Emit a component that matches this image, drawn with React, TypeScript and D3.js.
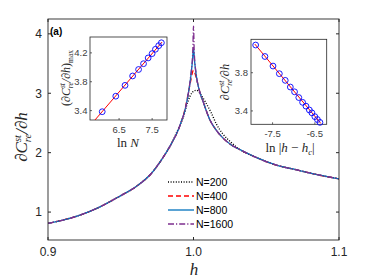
import React from 'react'
import * as d3 from 'd3'

// shared tails of the curves (all N coincide away from h = 1)
const hLeft = [0.9, 0.921, 0.935, 0.948, 0.962, 0.971, 0.978, 0.985]
const vLeft = [0.81, 0.94, 1.08, 1.25, 1.455, 1.65, 1.88, 2.16]
const hRight = [1.032, 1.043, 1.057, 1.071, 1.085, 1.1]
const vRight = [2.05, 1.92, 1.79, 1.71, 1.63, 1.56]

// near the critical point
const hPeak200 = [0.9895, 0.993, 0.996, 0.999, 1.002, 1.005, 1.008, 1.012, 1.016, 1.02, 1.026]
const vPeak200 = [2.4, 2.6, 2.85, 3.01, 3.05, 2.98, 2.86, 2.68, 2.47, 2.32, 2.17]
const hPeak400 = [0.9895, 0.992, 0.994, 0.996, 0.998, 1.0, 1.002, 1.004, 1.0066, 1.0113, 1.015, 1.0205, 1.026]
const vPeak400 = [2.38, 2.55, 2.72, 2.95, 3.2, 3.385, 3.25, 3.05, 2.86, 2.55, 2.4, 2.24, 2.13]
const hPeak800 = [0.9895, 0.992, 0.994, 0.996, 0.998, 0.9993, 1.0, 1.0007, 1.002, 1.004, 1.0066, 1.0113, 1.015, 1.0205, 1.026]
const vPeak800 = [2.38, 2.55, 2.7, 2.93, 3.25, 3.55, 3.76, 3.55, 3.28, 3.05, 2.86, 2.55, 2.4, 2.24, 2.13]
const hPeak1600 = [0.9895, 0.992, 0.994, 0.996, 0.998, 0.9995, 1.0, 1.0005, 1.002, 1.004, 1.0066, 1.0113, 1.015, 1.0205, 1.026]
const vPeak1600 = [2.38, 2.55, 2.7, 2.93, 3.28, 3.7, 4.13, 3.7, 3.3, 3.05, 2.86, 2.55, 2.4, 2.24, 2.13]

const seriesNames = ['N=200', 'N=400', 'N=800', 'N=1600']
const seriesColors = ['#000000', '#ff0000', '#0072bd', '#7e2f8e']
const seriesDash = ['1,1.6', '5,3', 'none', '6,2,1.2,2']

// inset (a): peak height vs ln N
const lnN = [5.99, 6.4, 6.68, 6.91, 7.09, 7.24, 7.38, 7.5, 7.6, 7.7, 7.78]
const peakMax = [3.385, 3.6, 3.75, 3.88, 3.97, 4.05, 4.13, 4.19, 4.25, 4.3, 4.34]
const fit1X = [5.77, 7.8]
const fit1Y = [3.27, 4.35]

// inset (b): derivative vs ln|h-hc|
const lnDist = [-7.9, -7.68, -7.49, -7.34, -7.2, -7.08, -6.98, -6.88, -6.79, -6.71, -6.63, -6.57, -6.5, -6.44, -6.38]
const derivVal = [4.09, 3.97, 3.87, 3.79, 3.72, 3.65, 3.6, 3.54, 3.49, 3.45, 3.41, 3.38, 3.34, 3.31, 3.28]
const fit2X = [-7.92, -6.36]
const fit2Y = [4.1, 3.27]

const xTicks = [0.9, 1.0, 1.1]
const yTicks = [1, 2, 3, 4]
const in1XTicks = [6.5, 7.5]
const in1YTicks = [3.4, 3.8, 4.2]
const in2XTicks = [-7.5, -6.5]
const in2YTicks = [3.4, 3.8]

const axisColor = '#262626'
const sans = 'Liberation Sans, Arial, sans-serif'
const serif = 'Liberation Serif, Times New Roman, serif'

const zip = (a: number[], b: number[]) => a.map((d, i) => [d, b[i]] as [number, number])

const DerivLabel = ({ size }: { size: number }) => {
  const s = size * 0.62
  return (
    <>
      <tspan>∂C</tspan>
      <tspan fontSize={s} dy={-size * 0.38}>st</tspan>
      <tspan fontSize={s} dx={-s * 0.68} dy={size * 0.62}>re</tspan>
      <tspan dy={-size * 0.24}>/∂h</tspan>
    </>
  )
}

const Box = ({ x, y, w, h }: { x: number; y: number; w: number; h: number }) => (
  <rect x={x} y={y} width={w} height={h} fill="white" stroke={axisColor} strokeWidth={0.8} />
)

export default function App() {
  const W = 374
  const H = 280
  const x = d3.scaleLinear().domain([0.9, 1.1]).range([48, 339])
  const y = d3.scaleLinear().domain([0.53, 4.25]).range([240, 19])

  const peaks = [
    zip(hPeak200, vPeak200),
    zip(hPeak400, vPeak400),
    zip(hPeak800, vPeak800),
    zip(hPeak1600, vPeak1600),
  ]
  const curves = peaks.map((p) => [...zip(hLeft, vLeft), ...p, ...zip(hRight, vRight)])
  const line = d3
    .line<[number, number]>()
    .x((d) => x(d[0]))
    .y((d) => y(d[1]))
    .curve(d3.curveMonotoneX)

  // inset 1
  const x1 = d3.scaleLinear().domain([5.62, 7.95]).range([90, 167])
  const y1 = d3.scaleLinear().domain([3.27, 4.42]).range([120, 37])
  // inset 2
  const x2 = d3.scaleLinear().domain([-8.01, -6.22]).range([251, 326.7])
  const y2 = d3.scaleLinear().domain([3.26, 4.15]).range([124.3, 39.3])

  const [l, r] = x.range()
  const [b, t] = y.range()

  return (
    <svg width={W} height={H} style={{ position: 'absolute', left: 0, top: 0, background: 'white' }}>
      <defs>
        <clipPath id="main-clip">
          <rect x={l} y={t} width={r - l} height={b - t} />
        </clipPath>
      </defs>

      {/* curves */}
      <g clipPath="url(#main-clip)" fill="none">
        {curves.map((c, i) => (
          <path
            key={i}
            d={line(c) || ''}
            stroke={seriesColors[i]}
            strokeWidth={i === 0 ? 1.4 : 1.3}
            strokeDasharray={seriesDash[i]}
          />
        ))}
      </g>

      {/* main axes box and ticks */}
      <rect x={l} y={t} width={r - l} height={b - t} fill="none" stroke={axisColor} strokeWidth={0.9} />
      {xTicks.map((v) => (
        <g key={v}>
          <line x1={x(v)} x2={x(v)} y1={b} y2={b - 3} stroke={axisColor} />
          <line x1={x(v)} x2={x(v)} y1={t} y2={t + 3} stroke={axisColor} />
          <text x={x(v)} y={b + 15.5} textAnchor="middle" fontFamily={sans} fontSize={12} fill={axisColor}>
            {d3.format('.1f')(v)}
          </text>
        </g>
      ))}
      {yTicks.map((v) => (
        <g key={v}>
          <line x1={l} x2={l + 3} y1={y(v)} y2={y(v)} stroke={axisColor} />
          <line x1={r} x2={r - 3} y1={y(v)} y2={y(v)} stroke={axisColor} />
          <text x={l - 6} y={y(v) + 4.3} textAnchor="end" fontFamily={sans} fontSize={12} fill={axisColor}>
            {v}
          </text>
        </g>
      ))}
      <text x={194} y={275} textAnchor="middle" fontFamily={serif} fontStyle="italic" fontSize={17} fill={axisColor}>
        h
      </text>
      <text
        transform="translate(27,137) rotate(-90)"
        textAnchor="middle"
        fontFamily={serif}
        fontStyle="italic"
        fontSize={17}
        fill={axisColor}
      >
        <DerivLabel size={17} />
      </text>
      <text x={50} y={35} fontFamily={sans} fontWeight="bold" fontSize={10} fill="#000">
        (a)
      </text>

      {/* legend */}
      {seriesNames.map((n, i) => (
        <g key={n} transform={`translate(0,${182 + i * 14})`}>
          <line x1={168} x2={194} y1={0} y2={0} stroke={seriesColors[i]} strokeWidth={1.3} strokeDasharray={seriesDash[i]} />
          <text x={196} y={3.8} fontFamily={sans} fontSize={10.5} fill="#000">
            {n}
          </text>
        </g>
      ))}

      {/* inset 1 */}
      <Box x={90} y={37} w={77} h={83} />
      <line
        x1={x1(fit1X[0])}
        y1={y1(fit1Y[0])}
        x2={x1(fit1X[1])}
        y2={y1(fit1Y[1])}
        stroke="#ff0000"
        strokeWidth={1}
      />
      {lnN.map((v, i) => (
        <circle key={i} cx={x1(v)} cy={y1(peakMax[i])} r={2.9} fill="none" stroke="#0000ff" strokeWidth={0.9} />
      ))}
      {in1XTicks.map((v) => (
        <g key={v}>
          <line x1={x1(v)} x2={x1(v)} y1={120} y2={118} stroke={axisColor} strokeWidth={0.7} />
          <text x={x1(v)} y={132.5} textAnchor="middle" fontFamily={sans} fontSize={9.5} fill="#404040">
            {v}
          </text>
        </g>
      ))}
      {in1YTicks.map((v) => (
        <g key={v}>
          <line x1={90} x2={92} y1={y1(v)} y2={y1(v)} stroke={axisColor} strokeWidth={0.7} />
          <text x={87.5} y={y1(v) + 3.3} textAnchor="end" fontFamily={sans} fontSize={9.5} fill="#404040">
            {v.toFixed(1)}
          </text>
        </g>
      ))}
      <text x={128} y={147} textAnchor="middle" fontFamily={serif} fontSize={13} fill={axisColor}>
        ln <tspan fontStyle="italic">N</tspan>
      </text>
      <text
        transform="translate(70,78) rotate(-90)"
        textAnchor="middle"
        fontFamily={serif}
        fontSize={12}
        fill={axisColor}
      >
        <tspan>(</tspan>
        <tspan fontStyle="italic">
          <DerivLabel size={12} />
        </tspan>
        <tspan>)</tspan>
        <tspan fontSize={7.5} dy={3}>max</tspan>
      </text>

      {/* inset 2 */}
      <Box x={251} y={39.3} w={75.7} h={85} />
      <line
        x1={x2(fit2X[0])}
        y1={y2(fit2Y[0])}
        x2={x2(fit2X[1])}
        y2={y2(fit2Y[1])}
        stroke="#ff0000"
        strokeWidth={1}
      />
      {lnDist.map((v, i) => (
        <circle key={i} cx={x2(v)} cy={y2(derivVal[i])} r={2.9} fill="none" stroke="#0000ff" strokeWidth={0.9} />
      ))}
      {in2XTicks.map((v) => (
        <g key={v}>
          <line x1={x2(v)} x2={x2(v)} y1={124.3} y2={122.3} stroke={axisColor} strokeWidth={0.7} />
          <text x={x2(v)} y={137} textAnchor="middle" fontFamily={sans} fontSize={9.5} fill="#404040">
            {v}
          </text>
        </g>
      ))}
      {in2YTicks.map((v) => (
        <g key={v}>
          <line x1={251} x2={253} y1={y2(v)} y2={y2(v)} stroke={axisColor} strokeWidth={0.7} />
          <text x={248} y={y2(v) + 3.3} textAnchor="end" fontFamily={sans} fontSize={9.5} fill="#404040">
            {v.toFixed(1)}
          </text>
        </g>
      ))}
      <text x={290} y={152} textAnchor="middle" fontFamily={serif} fontSize={13} fill={axisColor}>
        ln |<tspan fontStyle="italic">h</tspan> − <tspan fontStyle="italic">h</tspan>
        <tspan fontStyle="italic" fontSize={8.5} dy={2.5}>c</tspan>
        <tspan dy={-2.5}>|</tspan>
      </text>
      <text
        transform="translate(229,82) rotate(-90)"
        textAnchor="middle"
        fontFamily={serif}
        fontStyle="italic"
        fontSize={12.5}
        fill={axisColor}
      >
        <DerivLabel size={12.5} />
      </text>
    </svg>
  )
}
